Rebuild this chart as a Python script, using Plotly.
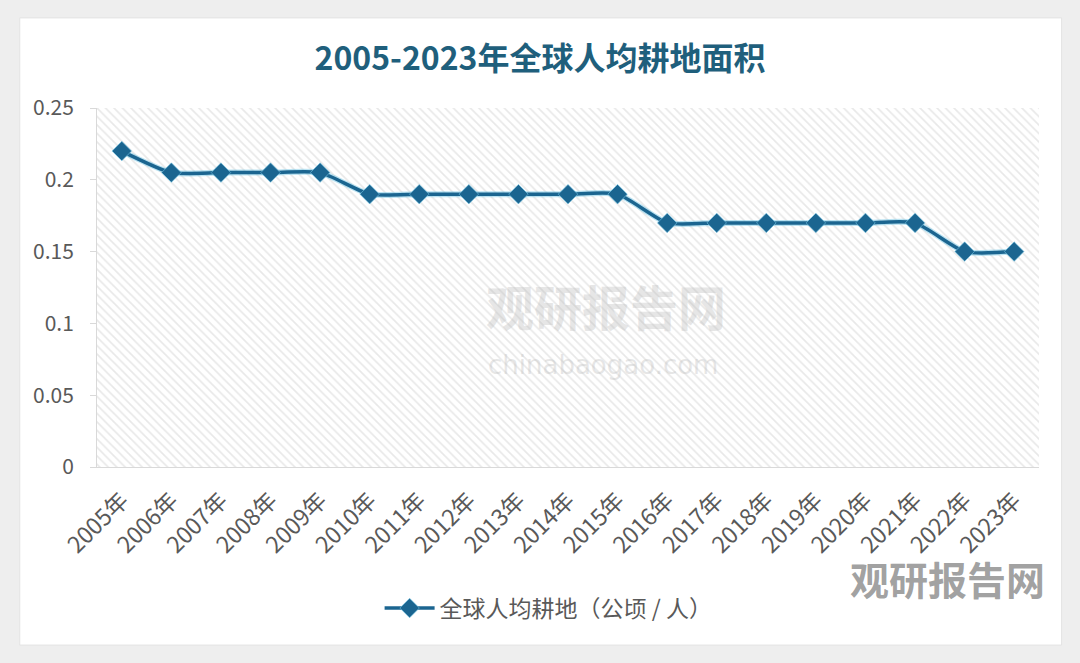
import plotly.graph_objects as go

years = ["2005年", "2006年", "2007年", "2008年", "2009年", "2010年", "2011年", "2012年",
         "2013年", "2014年", "2015年", "2016年", "2017年", "2018年", "2019年", "2020年",
         "2021年", "2022年", "2023年"]
area_per_capita = [0.22, 0.205, 0.205, 0.205, 0.205, 0.19, 0.19, 0.19, 0.19, 0.19, 0.19,
                   0.17, 0.17, 0.17, 0.17, 0.17, 0.17, 0.15, 0.15]
y_tick_vals = [0, 0.05, 0.1, 0.15, 0.2, 0.25]
y_tick_text = ["0", "0.05", "0.1", "0.15", "0.2", "0.25"]
series_name = "全球人均耕地（公顷 / 人）"
title_text = "2005-2023年全球人均耕地面积"

Y_MAX = 0.25
FONT = "Noto Sans CJK SC"

fig = go.Figure()

# hatched plot-area background
fig.add_trace(go.Bar(
    x=years, y=[Y_MAX] * len(years), width=1.0,
    marker=dict(color="white", line=dict(width=0),
                pattern=dict(shape="\\", fgcolor="#d2d2d2", bgcolor="#ffffff",
                             size=6, solidity=0.28)),
    hoverinfo="skip", showlegend=False,
))

# glow underlay
fig.add_trace(go.Scatter(
    x=years, y=area_per_capita, mode="lines",
    line=dict(color="rgba(120,200,230,0.5)", width=6, shape="spline", smoothing=0.6),
    hoverinfo="skip", showlegend=False,
))

fig.add_trace(go.Scatter(
    x=years, y=area_per_capita, mode="lines+markers", name=series_name,
    line=dict(color="#1b6590", width=3.5, shape="spline", smoothing=0.6),
    marker=dict(symbol="diamond", size=15, color="#1b6590",
                line=dict(color="rgba(120,200,230,0.6)", width=1)),
))

# page card
fig.add_shape(type="rect", xref="paper", yref="paper", layer="below",
              x0=-0.082, x1=1.024, y0=-0.496, y1=1.251,
              fillcolor="white", line=dict(color="#e3e3e3", width=1))

# watermarks
fig.add_annotation(text="<b>观研报告网</b>", xref="paper", yref="paper", x=0.54, y=0.452,
                   xanchor="center", yanchor="middle",
                   showarrow=False, font=dict(family=FONT, size=48, color="rgba(185,185,185,0.35)"))
fig.add_annotation(text="chinabaogao.com", xref="paper", yref="paper", x=0.537, y=0.285,
                   xanchor="center", yanchor="middle",
                   showarrow=False, font=dict(family="DejaVu Sans", size=26, color="rgba(185,185,185,0.35)"))
fig.add_annotation(text="<b>观研报告网</b>", xref="paper", yref="paper", x=0.903, y=-0.309,
                   xanchor="center", yanchor="middle",
                   showarrow=False, font=dict(family=FONT, size=39, color="rgba(120,120,120,0.7)"))

fig.update_layout(
    width=1080, height=663,
    paper_bgcolor="#eeeeee", plot_bgcolor="white",
    margin=dict(l=97, r=41, t=108, b=196),
    title=dict(text="<b>" + title_text + "</b>", x=0.5, xanchor="center", y=0.912, yanchor="middle",
               font=dict(family=FONT, size=32, color="#1f5f7c")),
    font=dict(family=FONT, size=21, color="#595959"),
    bargap=0,
    showlegend=True,
    legend=dict(orientation="h", x=0.3, y=-0.393, xanchor="left", yanchor="middle",
                bgcolor="rgba(0,0,0,0)", font=dict(family=FONT, size=23, color="#595959"),
                itemwidth=50),
    xaxis=dict(type="category", tickangle=-45, showgrid=False, showline=True,
               linecolor="#d9d9d9", linewidth=1, ticks="", tickfont=dict(size=23),
               ticklabelstandoff=10, range=[-0.5, len(years) - 0.5]),
    yaxis=dict(range=[0, Y_MAX], tickvals=y_tick_vals, ticktext=y_tick_text,
               showgrid=False, showline=True, linecolor="#d9d9d9", linewidth=1,
               ticks="outside", ticklen=6, tickcolor="#d9d9d9", zeroline=False,
               ticklabelstandoff=12, tickfont=dict(size=21)),
)

fig.write_html("out.html")
